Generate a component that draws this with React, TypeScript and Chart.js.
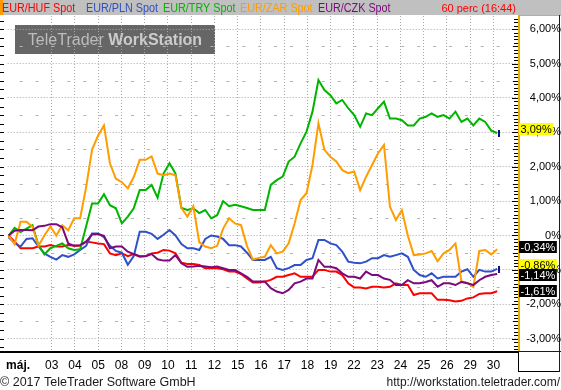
import React, { useEffect, useRef } from 'react';
import { Chart, registerables } from 'chart.js';

Chart.register(...registerables);

const FONT = '"Liberation Sans", Arial, sans-serif';

const seriesNames = ['EUR/HUF Spot', 'EUR/PLN Spot', 'EUR/TRY Spot', 'EUR/ZAR Spot', 'EUR/CZK Spot'];
const seriesColors = ['#ff0000', '#2f50c8', '#00b400', '#ff9c00', '#7b0a7d'];
const legendX = [2, 86, 163, 240, 318];

// hourly-ish samples, % change since start
const hufValues = [0.0, -0.18, -0.37, -0.37, -0.37, -0.32, -0.32, -0.28, -0.32, -0.32,
  -0.28, -0.3, -0.3, -0.18, -0.2, -0.23, -0.25, -0.52, -0.57, -0.52,
  -0.6, -0.54, -0.62, -0.6, -0.52, -0.5, -0.42, -0.44, -0.52, -0.79,
  -0.83, -0.83, -0.86, -0.95, -0.95, -0.95, -0.98, -1.05, -1.05, -1.12,
  -1.25, -1.37, -1.37, -1.34, -1.29, -1.2, -1.2, -1.15, -1.1, -1.2,
  -1.2, -1.2, -1.0, -1.0, -1.05, -1.05, -1.15, -1.39, -1.51, -1.51,
  -1.54, -1.49, -1.49, -1.51, -1.49, -1.39, -1.44, -1.44, -1.73, -1.68,
  -1.68, -1.68, -1.87, -1.87, -1.88, -1.92, -1.9, -1.83, -1.8, -1.7,
  -1.68, -1.68, -1.62];
const plnValues = [-0.05, -0.22, -0.32, -0.1, -0.08, -0.32, -0.52, -0.62, -0.7, -0.57,
  -0.62, -0.55, -0.42, -0.3, 0.06, 0.06, -0.05, -0.3, -0.45, -0.5,
  -0.85, -0.6, 0.11, 0.11, 0.05, -0.1, 0.02, 0.16, 0.0, -0.25,
  -0.37, -0.37, -0.42, -0.1, 0.0, -0.03, -0.1, -0.28, -0.28, -0.32,
  -0.5, -0.71, -0.71, -0.71, -0.62, -0.95, -1.0, -0.95, -0.86, -0.86,
  -0.71, -0.66, -0.13, -0.13, -0.23, -0.28, -0.47, -0.76, -0.79, -0.81,
  -0.76, -0.66, -0.66, -0.57, -0.62, -0.57, -0.52, -0.62, -1.0, -1.15,
  -1.2, -1.1, -1.25, -1.2, -1.2, -1.2, -1.05, -0.98, -1.2, -1.0,
  -1.05, -1.05, -0.97];
const tryValues = [0.0, 0.22, 0.1, 0.2, 0.3, -0.28, -0.55, -0.37, -0.3, -0.23,
  -0.37, -0.42, -0.4, 0.26, 0.93, 0.93, 1.2, 0.88, 0.79, 0.35,
  0.55, 0.79, 1.32, 1.32, 1.47, 1.1, 1.8, 2.1, 1.8, 0.8,
  0.74, 0.79, 0.65, 0.74, 0.5, 0.59, 1.0, 0.85, 0.89, 0.85,
  0.8, 0.74, 0.74, 0.74, 1.47, 1.61, 1.71, 2.15, 2.29, 2.68,
  3.02, 3.6, 4.52, 4.23, 4.08, 3.84, 3.94, 3.7, 3.5, 3.16,
  3.55, 3.5, 3.7, 3.89, 3.4, 3.4, 3.35, 3.2, 3.2, 3.4,
  3.45, 3.55, 3.45, 3.5, 3.4, 3.6, 3.3, 3.4, 3.2, 3.4,
  3.3, 3.05, 2.98];
const zarValues = [0.0, -0.25, 0.4, 0.4, 0.25, -0.3, 0.0, 0.26, 0.0, 0.3,
  0.15, 0.5, 0.5, 1.4, 2.5, 2.9, 3.2, 2.1, 1.65, 1.55,
  1.37, 1.7, 2.2, 2.2, 2.3, 1.8, 1.75, 1.8, 1.75, 0.8,
  0.55, 0.85, -0.2, -0.32, -0.37, -0.3, 0.2, 0.5, 0.35, 0.3,
  -0.3, -0.7, -0.65, -0.62, -0.28, -0.52, -0.47, -0.23, 0.35, 1.03,
  1.23, 2.05, 3.26, 2.49, 2.29, 2.15, 1.9, 1.81, 1.86, 1.32,
  1.71, 2.05, 2.39, 2.63, 0.84, 0.45, 0.74, 0.0, -0.57, -0.55,
  -0.52, -0.45, -0.75, -0.52, -0.42, -0.23, -1.34, -1.38, -1.5, -0.45,
  -0.42, -0.55, -0.4];
const czkValues = [0.0, 0.14, 0.16, 0.16, 0.15, 0.26, 0.28, 0.33, 0.33, 0.24,
  -0.23, -0.3, -0.28, -0.18, 0.03, 0.04, -0.01, -0.37, -0.32, -0.32,
  -0.47, -0.54, -0.6, -0.6, -0.54, -0.69, -0.73, -0.73, -0.57, -0.81,
  -0.91, -0.9, -0.88, -0.9, -0.92, -0.9, -0.95, -1.0, -1.0, -1.1,
  -1.2, -1.34, -1.34, -1.34, -1.53, -1.63, -1.68, -1.58, -1.39, -1.34,
  -1.25, -1.25, -0.71, -0.91, -0.91, -0.95, -1.1, -1.2, -1.2, -1.25,
  -1.05, -1.15, -1.15, -1.25, -1.29, -1.44, -1.44, -1.3, -1.39, -1.39,
  -1.35, -1.3, -1.49, -1.39, -1.39, -1.44, -1.35, -1.39, -1.44, -1.3,
  -1.2, -1.15, -1.12];

const lastValueLabels = [-1.61, -0.86, 3.09, -0.34, -1.14];
const lastLabelYellow = [false, true, true, false, false];
const lastLabelDrawOrder = [2, 3, 1, 4, 0];

// x axis in trading-day units (0 = 1 May)
const SAMPLE_START_DAY = 0.151;
const SAMPLE_STEP_DAY = 0.2562;
const X_MIN = 0.1085;
const X_MAX = 22.055;
const dayTickValues = [0.557, 2, 3, 4, 5, 6, 7, 8, 9, 10, 11, 12, 13, 14, 15, 16, 17, 18, 19, 20, 21];
const dayTickLabels = ['máj.', '03', '04', '05', '08', '09', '10', '11', '12', '15', '16', '17', '18', '19', '22', '23', '24', '25', '26', '29', '30'];

const Y_MIN = -3.387;
const Y_MAX = 6.381;
const yTickValues = [-3, -2, -1, 0, 1, 2, 3, 4, 5, 6];

const fmtPct = (v: number) => (v === 0 ? '0%' : v.toFixed(2).replace('.', ',') + '%');

const App = () => {
  const ref = useRef<HTMLCanvasElement>(null);

  useEffect(() => {
    const canvas = ref.current;
    if (!canvas) return;
    const series = [hufValues, plnValues, tryValues, zarValues, czkValues];
    const datasets = series.map((vals, s) => ({
      label: seriesNames[s],
      data: vals.map((v, i) => ({ x: SAMPLE_START_DAY + i * SAMPLE_STEP_DAY, y: v })),
      borderColor: seriesColors[s],
      backgroundColor: seriesColors[s],
      borderWidth: 2,
      pointRadius: 0,
      tension: 0,
      fill: false,
      order: 5 - s,
    }));

    const condensedText = (ctx: CanvasRenderingContext2D, txt: string, x: number, y: number, sx: number) => {
      ctx.save();
      ctx.translate(x, y);
      ctx.scale(sx, 1);
      ctx.fillText(txt, 0, 0);
      ctx.restore();
    };

    const decor = {
      id: 'decor',
      beforeDraw(chart: any) {
        const ctx = chart.ctx;
        ctx.save();
        ctx.fillStyle = '#ffffff';
        ctx.fillRect(0, 0, chart.width, chart.height);
        // watermark
        ctx.fillStyle = '#666666';
        ctx.fillRect(15, 25, 200, 29);
        ctx.textBaseline = 'alphabetic';
        ctx.textAlign = 'left';
        ctx.font = `16px ${FONT}`;
        const t1 = 'TeleTrader ';
        const w1 = ctx.measureText(t1).width;
        ctx.font = `bold 16px ${FONT}`;
        const w2 = ctx.measureText('WorkStation').width;
        const sx = 115 - (w1 + w2) / 2;
        ctx.font = `16px ${FONT}`;
        ctx.fillStyle = '#bdbdbd';
        ctx.fillText(t1, sx, 45);
        ctx.font = `bold 16px ${FONT}`;
        ctx.fillStyle = '#cccccc';
        ctx.fillText('WorkStation', sx + w1, 45);
        ctx.restore();
      },
      beforeDatasetsDraw(chart: any) {
        const ctx = chart.ctx;
        const ys = chart.scales.y;
        const area = chart.chartArea;
        ctx.save();
        ctx.strokeStyle = '#b4b4b4';
        ctx.lineWidth = 1;
        ctx.setLineDash([3, 12.9]);
        ctx.lineDashOffset = 3.9;
        for (let v = -3; v <= 6; v++) {
          const py = Math.round(ys.getPixelForValue(v + 0.5)) + 0.5;
          if (py < area.top || py > area.bottom) continue;
          ctx.beginPath();
          ctx.moveTo(area.left, py);
          ctx.lineTo(area.right, py);
          ctx.stroke();
        }
        ctx.restore();
      },
      afterDraw(chart: any) {
        const ctx = chart.ctx;
        const ys = chart.scales.y;
        const area = chart.chartArea;
        ctx.save();
        // top legend bar
        ctx.fillStyle = '#c0c0c0';
        ctx.fillRect(0, 0, chart.width, 15);
        ctx.fillStyle = '#ff9900';
        ctx.fillRect(0, 0, 3, 15);
        ctx.font = `12px ${FONT}`;
        ctx.textBaseline = 'alphabetic';
        ctx.textAlign = 'left';
        seriesNames.forEach((n, s) => {
          ctx.fillStyle = seriesColors[s];
          condensedText(ctx, n, legendX[s], 12, 0.9);
        });
        ctx.fillStyle = '#ff0000';
        ctx.font = `11px ${FONT}`;
        ctx.textAlign = 'right';
        ctx.fillText('60 perc (16:44)', 516, 12);

        // left minor ticks
        ctx.fillStyle = '#000';
        for (let k = -13; k <= 25; k++) {
          const py = Math.round(ys.getPixelForValue(k * 0.25));
          if (py < area.top || py > area.bottom) continue;
          ctx.fillRect(0, py, 4, 1);
        }
        // right minor ticks
        for (let k = -33; k <= 63; k++) {
          const py = Math.round(ys.getPixelForValue(k / 10));
          if (py < area.top || py > area.bottom) continue;
          const len = k % 10 === 0 ? 6 : k % 5 === 0 ? 5 : 4;
          ctx.fillRect(area.right - len, py, len, 1);
        }
        // x axis line
        ctx.fillRect(0, area.bottom - 1, area.right, 2);

        // right panel frame
        ctx.fillStyle = '#e8b000';
        ctx.fillRect(area.right, 15, 2, area.bottom - 15);
        ctx.fillRect(area.right, 15, chart.width - area.right, 1);
        ctx.fillStyle = '#10107a';
        ctx.fillRect(chart.width - 2, 15, 1, area.bottom - 15);
        ctx.fillRect(area.right, area.bottom - 1, chart.width - area.right, 1);
        ctx.fillStyle = '#000';
        ctx.fillRect(area.right, area.bottom, 1, 20);
        ctx.fillRect(area.right, area.bottom + 19, chart.width - area.right - 1, 1);
        ctx.fillStyle = '#10107a';
        ctx.fillRect(chart.width - 2, area.bottom, 1, 20);

        // end markers
        [2, 1].forEach((s) => {
          const meta = chart.getDatasetMeta(s);
          const pts = meta.data;
          const p = pts[pts.length - 1];
          ctx.fillStyle = '#101080';
          ctx.fillRect(Math.round(p.x) + 1, Math.round(p.y) - 3, 2, 7);
        });

        // last value labels
        ctx.font = `11px ${FONT}`;
        ctx.textAlign = 'center';
        ctx.textBaseline = 'middle';
        lastLabelDrawOrder.forEach((s) => {
          const v = lastValueLabels[s];
          const py = Math.round(ys.getPixelForValue(v));
          const txt = fmtPct(v);
          const w = ctx.measureText(txt).width + 3;
          ctx.fillStyle = lastLabelYellow[s] ? '#ffff00' : '#000000';
          ctx.fillRect(area.right + 1, py - 6, w, 12);
          ctx.fillStyle = lastLabelYellow[s] ? '#000000' : '#ffffff';
          ctx.fillText(txt, area.right + 1 + w / 2, py + 0.5);
        });

        // footer
        ctx.textBaseline = 'alphabetic';
        ctx.font = `12.5px ${FONT}`;
        ctx.fillStyle = '#1a1a1a';
        ctx.textAlign = 'left';
        ctx.fillText('© 2017 TeleTrader Software GmbH', 0, 386);
        ctx.textAlign = 'right';
        ctx.font = `12px ${FONT}`;
        ctx.fillText('http://workstation.teletrader.com/', 560, 386);
        ctx.restore();
      },
    };

    const chart = new Chart(canvas, {
      type: 'line',
      data: { datasets: datasets as any },
      options: {
        responsive: false,
        animation: false,
        devicePixelRatio: 1,
        layout: { padding: { top: 16, left: 4, right: 0, bottom: 0 }, autoPadding: false } as any,
        plugins: { legend: { display: false }, tooltip: { enabled: false } },
        scales: {
          x: {
            type: 'linear',
            position: 'bottom',
            min: X_MIN,
            max: X_MAX,
            afterFit: (s: any) => { s.height = 38; },
            afterBuildTicks: (s: any) => { s.ticks = dayTickValues.map((v) => ({ value: v })); },
            ticks: {
              autoSkip: false,
              maxRotation: 0,
              minRotation: 0,
              padding: 6,
              color: '#000',
              font: (c: any) => ({ family: FONT, size: 12, weight: c.index === 0 ? 'bold' : 'normal' }),
              callback: (_v: any, i: number) => dayTickLabels[i],
            },
            grid: {
              color: (c: any) => (c.index === 0 ? 'rgba(0,0,0,0)' : '#a8a8a8'),
              drawTicks: false,
              lineWidth: 1,
            },
            border: { display: false, dash: [1, 2] },
          },
          y: {
            type: 'linear',
            position: 'right',
            min: Y_MIN,
            max: Y_MAX,
            afterFit: (s: any) => { s.width = 43; },
            afterBuildTicks: (s: any) => { s.ticks = yTickValues.map((v) => ({ value: v })); },
            ticks: {
              padding: 6,
              crossAlign: 'far',
              color: '#000',
              font: { family: FONT, size: 11 },
              callback: (v: any) => fmtPct(Number(v)),
            },
            grid: { color: '#a8a8a8', drawTicks: false, lineWidth: 1 },
            border: { display: false, dash: [1, 2] },
          },
        },
      } as any,
      plugins: [decor],
    });
    return () => chart.destroy();
  }, []);

  return (
    <div style={{ position: 'absolute', left: 0, top: 0, width: 561, height: 390 }}>
      <canvas ref={ref} width={561} height={390} style={{ display: 'block', width: 561, height: 390 }} />
    </div>
  );
};

export default App;
